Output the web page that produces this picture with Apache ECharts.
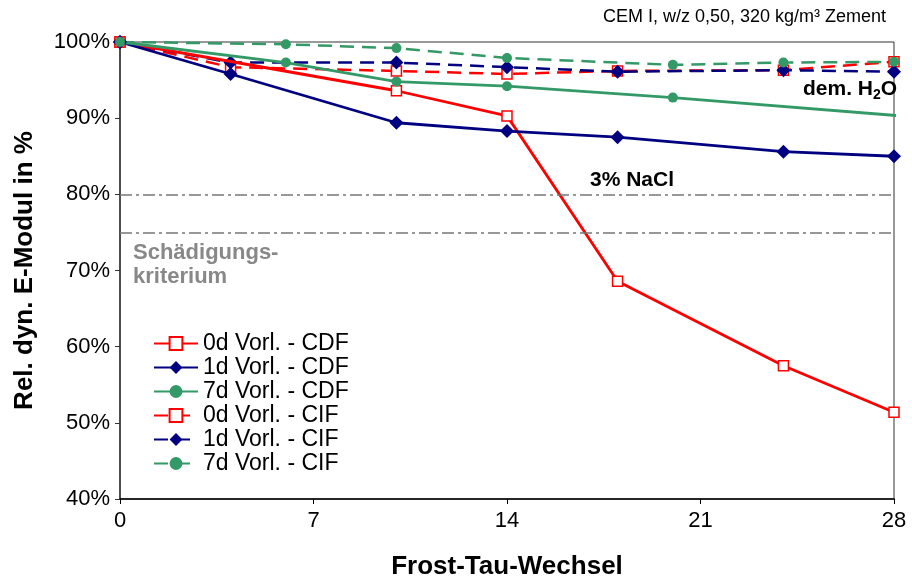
<!DOCTYPE html>
<html>
<head>
<meta charset="utf-8">
<script src="https://cdn.jsdelivr.net/npm/echarts@6/dist/echarts.min.js"></script>
<style>html,body{margin:0;padding:0;background:#fff}#c{width:912px;height:582px}</style>
</head>
<body>
<div id="c"></div>
<script>
// ---- data ----
var seriesNames = ['0d Vorl. - CDF', '1d Vorl. - CDF', '7d Vorl. - CDF', '0d Vorl. - CIF', '1d Vorl. - CIF', '7d Vorl. - CIF'];
var x0dCDF = [0, 10, 14, 18, 24, 28];
var y0dCDF = [100, 93.6, 90.3, 68.6, 57.5, 51.4];
var x1dCDF = [0, 4, 10, 14, 18, 24, 28];
var y1dCDF = [100, 95.8, 89.4, 88.3, 87.5, 85.6, 85.0];
var x7dCDF = [0, 6, 10, 14, 20, 28.25];
var y7dCDF = [100, 97.3, 94.8, 94.2, 92.7, 90.3];
var x0dCIF = [0, 4, 10, 14, 18, 24, 28, 28.5];
var y0dCIF = [100, 96.7, 96.2, 95.8, 96.2, 96.3, 97.4, 96.7];
var x1dCIF = [0, 4, 10, 14, 18, 24, 28, 28.5];
var y1dCIF = [100, 97.3, 97.3, 96.7, 96.1, 96.3, 96.1, 95.6];
var x7dCIF = [0, 6, 10, 14, 20, 24, 28];
var y7dCIF = [100, 99.7, 99.2, 97.9, 97.0, 97.3, 97.4];
var refLines = [80, 75];
var xTicks = [0, 7, 14, 21, 28];
var yTicks = [40, 50, 60, 70, 80, 90, 100];

var RED = '#ff0000', BLUE = '#000080', GREEN = '#339966';

function pts(xs, ys) {
  return xs.map(function (x, i) {
    var p = {value: [x, ys[i]]};
    if (x > 28 || (x % 1 !== 0)) { p.symbol = 'none'; }
    return p;
  });
}

function mk(name, xs, ys, color, dashed, symbol, size, hollow) {
  return {
    name: name,
    type: 'line',
    clip: false,
    data: pts(xs, ys),
    symbol: symbol,
    symbolSize: size,
    showAllSymbol: true,
    lineStyle: {color: color, width: dashed ? 2.5 : 2.8, type: dashed ? [14, 8] : 'solid'},
    itemStyle: hollow ? {color: '#ffffff', borderColor: color, borderWidth: 1.5} : {color: color, borderColor: color, borderWidth: 0},
    emphasis: {disabled: true},
    z: dashed ? 3 : 4
  };
}

var series = [
  mk(seriesNames[0], x0dCDF, y0dCDF, RED, false, 'rect', 10, true),
  mk(seriesNames[1], x1dCDF, y1dCDF, BLUE, false, 'diamond', 14, false),
  mk(seriesNames[2], x7dCDF, y7dCDF, GREEN, false, 'circle', 10, false),
  mk(seriesNames[3], x0dCIF, y0dCIF, RED, true, 'rect', 10, true),
  mk(seriesNames[4], x1dCIF, y1dCIF, BLUE, true, 'diamond', 14, false),
  mk(seriesNames[5], x7dCIF, y7dCIF, GREEN, true, 'circle', 10, false)
];
series[0].markLine = {
  symbol: 'none', silent: true, animation: false,
  label: {show: false},
  lineStyle: {color: '#777777', type: [12, 4, 3, 4], width: 1.5},
  data: refLines.map(function (v) { return {yAxis: v}; })
};

var FONT = 'Liberation Sans, Arial, sans-serif';
var chart = echarts.init(document.getElementById('c'), null, {renderer: 'canvas'});
chart.setOption({
  animation: false,
  backgroundColor: '#ffffff',
  textStyle: {fontFamily: FONT},
  grid: {left: 120, right: 18, top: 42, bottom: 83, show: true, borderColor: '#333333', borderWidth: 1,
         backgroundColor: 'transparent', containLabel: false, outerBoundsMode: 'none'},
  xAxis: {
    type: 'value', min: xTicks[0], max: xTicks[xTicks.length - 1], interval: 7,
    name: 'Frost-Tau-Wechsel', nameLocation: 'middle', nameGap: 55,
    nameTextStyle: {fontSize: 26, fontWeight: 'bold', color: '#000', fontFamily: FONT},
    axisLine: {lineStyle: {color: '#000', width: 1.5}},
    axisTick: {show: true, length: 5, lineStyle: {color: '#000'}},
    axisLabel: {fontSize: 22, color: '#000', margin: 11, fontFamily: FONT},
    splitLine: {show: false}
  },
  yAxis: {
    type: 'value', min: yTicks[0], max: yTicks[yTicks.length - 1], interval: 10,
    name: 'Rel. dyn. E-Modul in %', nameLocation: 'middle', nameGap: 82,
    nameTextStyle: {fontSize: 26, fontWeight: 'bold', color: '#000', fontFamily: FONT},
    axisLine: {show: true, lineStyle: {color: '#333', width: 1.5}},
    axisTick: {show: true, length: 5, lineStyle: {color: '#333'}},
    axisLabel: {fontSize: 22, color: '#000', margin: 10, formatter: '{value}%', fontFamily: FONT},
    splitLine: {show: false}
  },
  legend: {
    data: seriesNames,
    orient: 'vertical', left: 148, top: 327,
    itemWidth: 44, itemHeight: 16, itemGap: 1,
    textStyle: {fontSize: 23, color: '#000', lineHeight: 23, fontFamily: FONT, padding: [0, 0, 0, 0]},
    selectedMode: false
  },
  graphic: [
    {type: 'text', left: 603, top: 8, style: {text: 'CEM I, w/z 0,50, 320 kg/m³ Zement', font: '18px ' + FONT, fill: '#000'}},
    {type: 'text', left: 590, top: 170, style: {text: '3% NaCl', font: 'bold 21px ' + FONT, fill: '#000'}},
    {type: 'text', left: 133, top: 241, style: {text: 'Schädigungs-\nkriterium', font: 'bold 22px ' + FONT, fill: '#888888', lineHeight: 24}},
    {type: 'text', left: 803, top: 79, style: {
      text: '{a|dem. H}{s|2}{a|O}',
      rich: {
        a: {fontSize: 21, fontWeight: 'bold', fontFamily: FONT, fill: '#000', lineHeight: 26, verticalAlign: 'middle'},
        s: {fontSize: 14, fontWeight: 'bold', fontFamily: FONT, fill: '#000', lineHeight: 26, verticalAlign: 'bottom'}
      }
    }}
  ],
  series: series
});
</script>
</body>
</html>
